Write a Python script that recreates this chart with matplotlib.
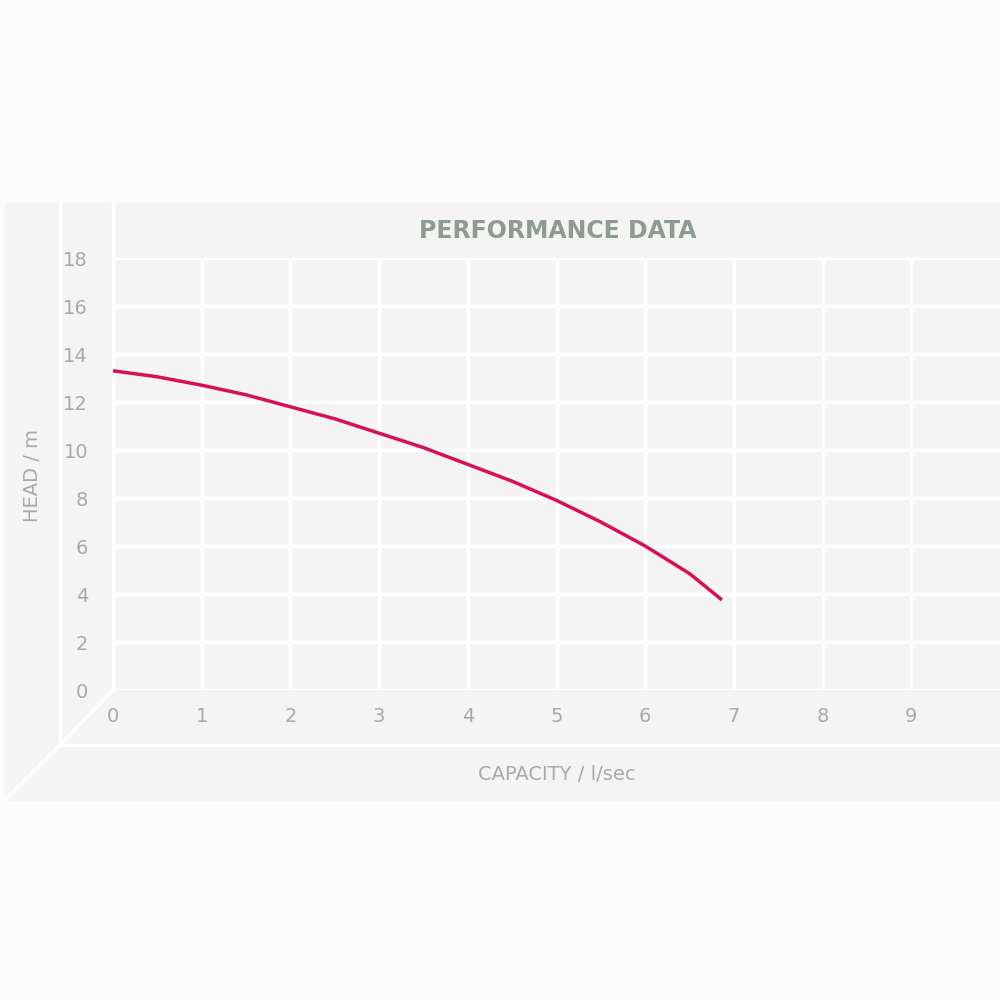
import matplotlib.pyplot as plt
import numpy as np

capacity = [0, 0.5, 1, 1.5, 2, 2.5, 3, 3.5, 4, 4.5, 5, 5.5, 6, 6.5, 6.85]
head = [13.3, 13.05, 12.7, 12.3, 11.8, 11.3, 10.7, 10.1, 9.4, 8.7, 7.9, 7.0, 6.0, 4.85, 3.8]
xticks = list(range(0, 10))
yticks = list(range(0, 20, 2))

grey_txt = '#a8aaa8'
panel = '#f4f4f4'

fig = plt.figure(figsize=(10, 10), dpi=100)
fig.patch.set_facecolor('#fcfcfc')

# background decor in pixel coords
bg = fig.add_axes([0, 0, 1, 1])
bg.set_xlim(0, 1000)
bg.set_ylim(1000, 0)
bg.axis('off')
bg.add_patch(plt.Rectangle((5, 203), 995, 597, color=panel, zorder=0))
bg.plot([60, 60], [203, 745], color='white', lw=2.5)
bg.plot([60, 1000], [745, 745], color='white', lw=2.5)
bg.plot([113, 60], [690, 745], color='white', lw=2.5)
bg.plot([60, 5], [745, 800], color='white', lw=2.5)
bg.plot([113, 113], [203, 690], color='white', lw=2.5)
bg.text(558, 231, 'PERFORMANCE DATA', ha='center', va='center', fontsize=17,
        fontweight='bold', color='#8f9a90')
bg.text(33, 475, 'HEAD / m', rotation=90, ha='center', va='center', fontsize=14, color=grey_txt)
bg.text(557, 774, 'CAPACITY / l/sec', ha='center', va='center', fontsize=14, color=grey_txt)

ax = fig.add_axes([0.113, 0.310, 0.887, 0.432])
ax.set_xlim(0, 10)
ax.set_ylim(0, 18)
ax.patch.set_alpha(0)
for s in ax.spines.values():
    s.set_visible(False)
ax.set_xticks(xticks)
ax.set_yticks(yticks)
ax.grid(True, color='white', lw=2.5)
ax.tick_params(length=0, labelsize=14, labelcolor=grey_txt, pad=12)
ax.tick_params(axis='y', pad=18)
ax.plot(capacity, head, color='#d9124f', lw=2.5, zorder=3)

fig.savefig('out.png', dpi=100, facecolor=fig.get_facecolor())
